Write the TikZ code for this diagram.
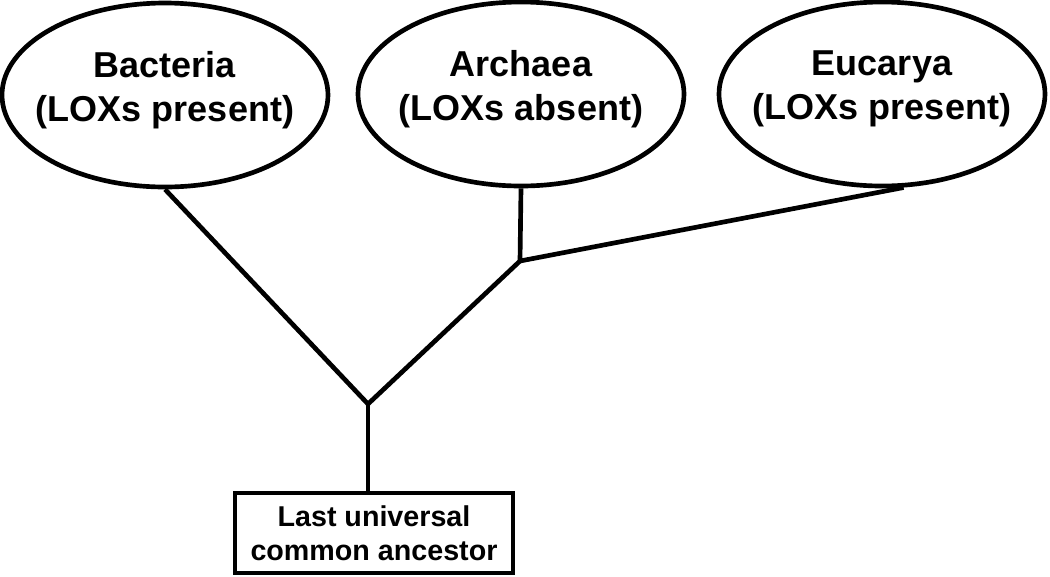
\documentclass[tikz,border=0pt]{standalone}
\usepackage{fontspec}
\setmainfont{Liberation Sans}
\usetikzlibrary{shapes.geometric}

\begin{document}
\begin{tikzpicture}[x=0.75pt,y=0.75pt,yscale=-1,xscale=1,
  taxon/.style={draw,ellipse,line width=3.5pt,inner sep=0pt,minimum width=244.5pt,minimum height=138pt},
  taxontext/.style={font=\fontsize{27}{33}\selectfont\bfseries,align=center,yshift=3.75pt},
  branch/.style={line width=3.5pt},
  rootbox/.style={draw,rectangle,line width=3.5pt,inner sep=0pt,minimum width=208.5pt,minimum height=60pt,font=\fontsize{21.5}{25.5}\selectfont\bfseries,align=center}]
\useasboundingbox (0,0) rectangle (1050,576);
% Domains
\node [taxon,label={[taxontext]center:Bacteria\\(LOXs present)}] (bac) at (165,95) {};
\node [taxon,label={[taxontext]center:Archaea\\(LOXs absent)}] (arc) at (521,94) {};
\node [taxon,label={[taxontext]center:Eucarya\\(LOXs present)}] (euc) at (882,94) {};
% Root
\node [rootbox] (luca) at (374,533) {Last universal\\common ancestor};
% Branch points
\coordinate (j1) at (520,261);
\coordinate (j0) at (368,404);
\draw [branch] (bac.south) -- (j0);
\draw [branch] (arc.south) -- (j1) -- (j0);
\draw [branch] (euc.-77) -- (j1);
\draw [branch] (j0) -- (j0 |- luca.north);
\end{tikzpicture}
\end{document}
